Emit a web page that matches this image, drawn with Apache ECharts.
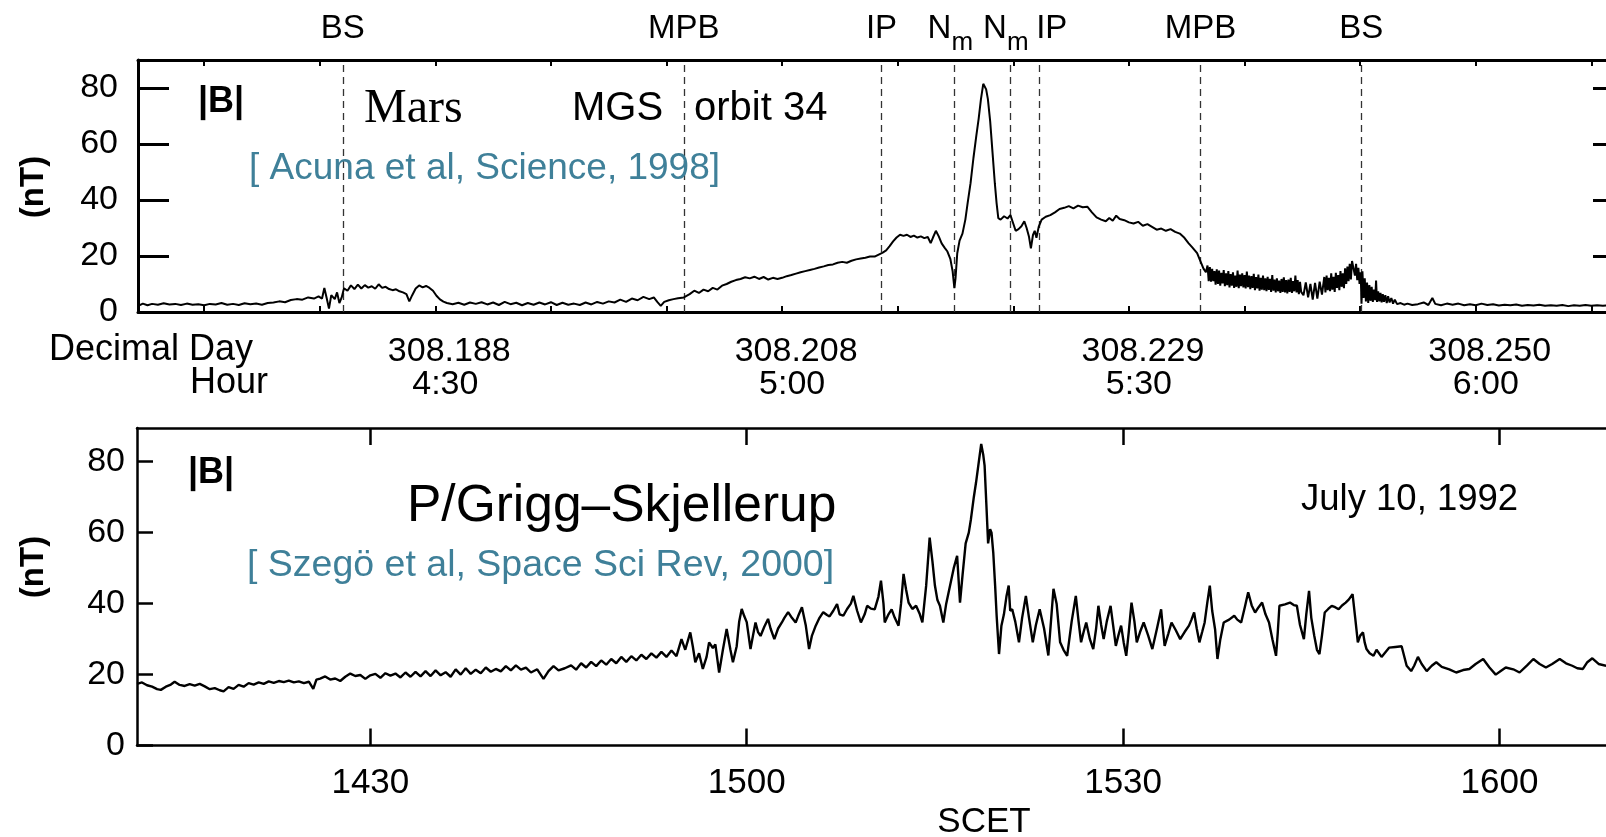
<!DOCTYPE html>
<html><head><meta charset="utf-8">
<script src="https://cdn.jsdelivr.net/npm/echarts@6.0.0/dist/echarts.min.js"></script>
<style>html,body{margin:0;padding:0;background:#fff}#c{width:1606px;height:837px}</style>
</head><body><div id="c"></div>
<script>
// ---------- Mars (MGS orbit 34), minutes after 04:00 ----------
const marsTime = [4.3,4.7,5.1,5.5,6.0,6.5,7.0,7.5,8.0,8.5,9.0,9.5,10.0,10.5,11.0,11.5,12.0,12.5,13.0,13.5,14.0,14.5,15.0,15.5,16.0,16.5,17.0,17.5,18.0,18.5,19.0,19.5,19.9,20.2,20.4,20.6,20.8,21.0,21.3,21.5,21.7,21.9,22.1,22.4,22.7,23.0,23.3,23.6,23.9,24.2,24.5,24.8,25.1,25.4,25.7,26.0,26.3,26.6,26.9,27.2,27.5,27.75,28.0,28.3,28.6,28.9,29.2,29.5,29.8,30.1,30.4,30.7,31.0,
31.5,32.0,32.5,33.0,33.5,34.0,34.5,35.0,35.5,36.0,36.5,37.0,37.5,38.0,38.5,39.0,39.5,40.0,40.5,41.0,41.5,42.0,42.5,43.0,43.5,44.0,44.5,45.0,45.5,46.0,46.5,47.0,47.5,48.0,48.5,48.9,49.2,49.5,49.8,50.2,
50.6,51.0,51.5,52.0,52.4,52.8,53.2,53.6,54.0,54.4,54.8,55.2,55.6,56.0,56.4,56.8,57.2,57.6,58.0,58.4,58.8,59.2,59.6,60.0,60.4,60.8,61.2,61.6,62.0,62.4,62.8,63.2,63.6,64.0,64.4,64.8,65.2,65.6,66.0,66.4,66.8,67.2,67.6,68.0,68.4,68.7,69.0,
69.3,69.6,69.9,70.2,70.5,70.8,71.1,71.4,71.7,72.0,72.3,72.6,72.85,73.05,73.3,73.55,73.8,74.05,74.3,74.55,74.75,74.9,75.0,75.15,75.35,75.6,75.85,76.05,76.3,76.55,76.8,77.0,77.2,77.4,77.5,77.65,77.8,78.0,78.2,78.4,78.55,78.7,78.9,79.2,79.5,79.75,80.0,80.2,80.45,80.7,80.95,81.15,81.35,81.52,81.7,81.85,82.0,82.2,82.45,82.8,83.2,83.6,84.0,
84.4,84.8,85.2,85.6,86.0,86.4,86.8,87.2,87.6,88.0,88.3,88.6,88.9,89.2,89.6,90.0,90.4,90.8,91.2,91.6,92.0,92.4,92.8,93.2,93.6,94.0,94.4,94.8,95.15,95.5,95.9,96.2,96.45,96.66,
96.8,96.9,97.0,97.1,97.2,97.3,97.4,97.5,97.6,97.7,97.8,97.9,98.0,98.1,98.2,98.3,98.4,98.5,98.6,98.7,98.8,98.9,99.0,99.1,99.2,99.3,99.4,99.5,99.6,99.7,99.8,99.9,100.0,100.1,100.2,100.3,100.4,100.5,100.6,100.7,100.8,100.9,101.0,101.1,101.2,101.3,101.4,101.5,101.6,101.7,101.8,101.9,102.0,102.1,102.2,102.3,102.4,102.5,102.6,102.7,102.8,102.9,103.0,103.1,103.2,103.3,103.4,103.5,103.6,103.7,103.8,103.9,104.0,104.1,104.2,104.3,104.4,104.5,104.6,104.7,104.8,104.9,105.1,105.3,105.5,105.7,105.9,106.1,106.3,106.5,106.7,106.9,107.0,107.1,107.2,107.3,107.4,107.5,107.6,107.7,107.8,107.9,108.0,108.1,108.2,108.3,108.4,108.5,108.6,108.7,108.8,108.9,109.0,109.1,109.2,109.3,109.45,109.55,109.65,109.75,109.85,109.95,110.05,
110.12,110.2,110.3,110.4,110.5,110.6,110.7,110.8,110.9,111.0,111.1,111.2,111.3,111.38,111.46,111.56,111.66,111.76,111.86,111.96,112.06,112.18,112.3,112.42,112.55,112.7,112.85,113.0,113.2,113.5,113.8,114.1,114.5,115.0,115.5,115.9,116.25,116.5,117.0,117.5,118.0,118.5,119.0,119.5,120.0,120.5,121.0,121.5,122.0,122.5,123.0,123.5,124.0,124.5,125.0,125.5,126.0,126.5,127.0,127.5,128.0,128.5,129.0,129.5,130.0,130.5,131.0,131.3];
const marsB = [2.2,3.0,2.4,2.9,2.6,3.1,2.7,2.9,2.5,3.0,2.6,2.8,2.4,2.9,2.7,3.2,2.6,2.9,2.5,3.1,2.8,3.0,2.6,3.2,3.4,3.8,3.5,4.3,4.6,4.4,5.2,4.8,5.6,4.8,8.6,5.0,1.2,6.0,4.6,7.0,3.2,5.2,8.5,7.6,9.5,8.2,9.8,8.4,9.6,8.7,9.2,8.3,9.9,8.6,9.0,8.2,7.8,8.1,7.4,7.0,6.4,3.8,6.0,8.4,9.5,8.8,9.3,8.6,7.6,5.8,4.5,3.7,3.2,
2.8,3.3,2.6,3.4,2.9,3.5,2.7,3.4,2.5,3.6,2.8,3.3,2.4,3.2,2.6,3.4,2.7,3.5,2.5,3.3,2.6,3.0,2.5,3.4,2.7,3.6,3.0,3.8,3.4,4.4,3.6,4.8,4.2,5.4,4.6,5.2,3.6,2.2,3.6,4.2,
4.6,4.9,5.2,6.4,7.6,6.8,8.0,7.4,8.6,8.0,9.4,10.0,10.8,11.4,11.8,12.4,12.0,12.6,11.8,12.5,11.6,12.2,11.8,12.2,12.8,13.2,13.7,14.2,14.6,15.0,15.4,15.9,16.3,16.8,17.0,17.6,17.9,17.6,18.3,18.8,19.1,19.4,19.8,19.8,20.6,21.2,22.0,
23.5,25.2,26.6,27.6,27.2,27.6,26.8,27.3,26.6,27.0,26.4,26.8,24.6,26.6,29.0,27.0,24.5,23.0,21.6,19.0,14.5,8.5,12.0,21.0,25.5,28.0,33.0,39.0,46.0,55.0,63.0,69.0,76.0,81.5,82.0,79.5,76.0,68.0,57.0,46.0,39.0,33.5,33.0,34.2,33.4,34.6,31.5,29.0,29.6,30.6,32.4,30.0,27.0,22.7,27.5,29.0,26.5,30.5,33.0,34.0,34.6,35.6,36.8,
37.2,37.8,37.0,38.0,37.4,37.6,35.6,33.8,33.0,32.4,33.6,32.6,34.4,33.2,32.8,32.0,31.6,32.2,30.8,31.4,30.4,29.4,29.8,29.0,29.6,28.6,28.0,26.5,24.6,23.0,21.0,18.0,15.5,14.2,
16.6,11.0,16.0,10.8,15.4,11.0,14.6,9.8,15.2,10.0,14.8,9.4,14.0,10.2,15.0,9.2,13.8,9.6,14.6,8.8,13.5,9.4,14.2,8.6,13.0,9.0,14.8,8.5,13.4,9.2,13.8,8.8,13.2,8.4,14.4,8.9,13.0,8.2,12.8,8.6,13.6,7.8,12.5,8.4,13.4,7.6,12.2,8.0,13.0,7.8,12.0,7.4,12.6,7.9,11.8,7.2,13.2,7.6,11.6,7.0,12.0,7.4,11.2,6.8,11.8,7.2,12.4,7.0,11.4,6.6,11.6,7.2,12.2,6.8,11.0,7.4,13.0,7.0,11.4,6.4,10.8,7.2,6.0,10.6,5.2,10.0,4.4,10.4,4.8,10.8,6.2,12.5,7.0,13.0,7.8,12.2,7.4,13.8,8.0,12.6,7.2,14.0,8.6,13.2,7.8,14.6,9.0,13.8,8.5,15.6,10.0,16.2,11.0,17.2,11.6,18.2,18.6,13.0,17.2,11.4,15.8,10.0,14.2,
3.0,14.5,5.0,12.0,3.8,10.5,3.2,9.6,4.0,9.0,3.6,8.0,4.2,11.2,3.6,7.4,3.8,6.8,3.4,6.4,3.6,6.0,3.2,5.6,3.4,5.0,3.0,4.4,2.8,3.2,2.6,3.0,2.5,2.8,3.4,2.5,5.0,2.9,2.4,3.0,2.6,3.0,2.4,2.8,2.4,3.0,2.5,2.8,2.3,2.6,2.4,2.7,2.2,2.5,2.3,2.6,2.2,2.4,2.2,2.5,2.1,2.4,2.2,2.5,2.2,2.4,2.2,2.3];

// boundary crossings (minutes after 04:00)
const boundaryTimes = [22.0, 51.5, 68.6, 74.9, 79.7, 82.2, 96.2, 110.1];
const boundaryNames = ['BS', 'MPB', 'IP', 'Nm', 'Nm', 'IP', 'MPB', 'BS'];

const marsMinorTicks = [10,20,30,40,50,60,70,80,90,100,110,120,130];
const marsTickValues = [30, 60, 90, 120];
const marsDayLabels = ['308.188', '308.208', '308.229', '308.250'];
const marsHourLabels = ['4:30', '5:00', '5:30', '6:00'];

// ---------- P/Grigg-Skjellerup (Giotto), minutes after 14:00 SCET ----------
const gsTime = [11.4,11.8,12.2,12.6,13.0,13.3,13.7,14.1,14.4,14.8,15.2,15.6,16.0,16.4,16.8,17.2,17.6,18.0,18.3,18.7,19.1,19.5,19.9,20.3,20.7,21.1,21.5,21.9,22.3,22.7,23.1,23.5,23.9,24.3,24.7,25.1,25.45,25.7,26.0,26.4,26.8,27.2,27.6,28.0,28.4,28.8,29.2,29.6,30.0,30.4,30.8,31.2,31.6,32.0,32.4,32.8,33.2,33.6,34.0,34.4,34.8,35.2,35.6,36.0,36.4,36.8,37.2,37.6,38.0,38.4,38.8,39.2,39.6,40.0,40.4,40.8,41.2,41.6,42.0,42.4,42.8,43.3,43.8,44.2,44.6,45.0,45.5,46.0,46.4,46.8,47.2,47.6,48.0,48.4,48.8,49.2,49.6,50.0,50.4,50.8,51.2,51.6,52.0,52.4,52.8,53.2,53.6,54.0,54.4,
54.8,55.1,55.5,55.7,55.9,56.2,56.5,56.8,57.0,57.3,57.5,57.8,58.1,58.4,58.7,58.9,59.2,59.4,59.6,59.8,60.0,60.3,60.5,60.7,60.9,61.1,61.4,61.7,61.9,62.2,62.5,62.8,63.0,63.3,63.6,63.9,64.1,64.4,64.7,64.97,65.2,65.5,65.8,66.1,66.4,66.6,66.9,67.2,67.4,67.7,68.0,68.3,68.5,68.8,69.1,69.4,69.6,69.9,70.2,70.5,70.7,70.9,71.0,71.3,71.55,71.8,72.1,72.3,72.5,72.7,72.9,73.2,73.5,73.8,74.0,74.3,74.58,74.8,75.0,75.2,75.4,75.67,75.9,76.2,76.5,76.77,77.0,77.2,77.45,77.7,77.87,78.1,78.28,78.5,78.69,78.85,78.96,79.1,79.24,79.4,79.51,79.65,79.8,79.92,80.11,80.3,80.5,80.7,80.88,81.0,81.16,81.4,81.7,81.95,82.25,82.5,82.8,83.05,83.35,83.7,84.04,84.25,84.45,84.7,
84.98,85.25,85.54,85.9,86.23,86.45,86.65,86.85,87.06,87.35,87.62,87.85,88.03,88.25,88.45,88.7,89.0,89.2,89.42,89.62,89.84,90.05,90.25,90.45,90.67,90.9,91.09,91.35,91.64,92.0,92.33,92.7,93.03,93.17,93.31,93.6,93.86,94.2,94.55,94.9,95.25,95.45,95.66,95.87,96.08,96.3,96.5,96.7,96.91,97.1,97.33,97.52,97.75,98.02,98.45,98.86,99.1,99.41,99.7,99.97,100.25,100.52,100.8,101.08,101.35,101.63,101.9,102.19,102.33,102.46,102.9,103.3,103.6,103.85,104.1,104.41,104.6,104.82,105.0,105.24,105.45,105.65,105.85,106.07,106.35,106.63,106.9,107.18,107.45,107.74,108.0,108.29,108.5,108.71,108.9,109.12,109.26,109.4,109.65,109.96,
110.2,110.6,111.2,111.7,112.2,112.6,112.96,113.2,113.5,113.8,114.2,114.6,114.96,115.4,116.0,116.55,117.1,117.6,118.1,118.7,119.2,119.7,120.1,120.5,121.1,121.6,122.2,122.7,123.2,123.7,124.2,124.8,125.3,125.8,126.2,126.65,127.0,127.4,127.9,128.5];
const gsB = [17.4,17.8,17.0,16.6,15.9,15.7,16.6,17.2,18.0,17.1,16.8,17.3,16.9,17.4,16.7,15.9,16.2,15.6,15.3,16.5,16.0,17.1,16.6,17.6,17.2,17.8,17.4,18.1,17.7,18.2,17.9,18.3,17.8,18.1,17.6,18.0,16.0,18.6,18.9,19.5,18.6,18.9,18.2,19.4,20.3,19.6,19.9,18.8,19.8,20.2,19.1,20.4,19.7,20.3,19.2,20.6,19.4,20.8,19.5,21.0,19.6,21.2,19.8,20.7,19.4,21.5,20.0,21.8,20.2,21.4,20.4,22.0,20.8,21.6,20.9,22.4,21.2,22.6,21.4,22.0,20.6,21.5,18.8,21.0,22.4,21.2,21.8,22.6,21.4,23.2,22.0,23.6,22.4,24.0,22.8,24.4,23.2,25.0,23.6,25.2,24.0,25.6,24.4,26.0,24.8,26.4,25.0,26.8,25.2,
30.0,27.0,31.9,28.0,23.5,26.0,21.6,25.0,29.1,27.5,28.5,20.6,27.0,32.9,27.0,23.5,28.0,35.0,38.5,36.5,34.8,27.2,31.0,34.7,32.0,30.9,33.5,35.7,33.0,30.0,33.0,34.7,36.0,37.6,36.0,34.7,36.5,39.0,34.0,27.2,31.0,33.8,36.0,37.6,36.8,36.4,38.0,39.9,37.0,36.6,38.5,40.0,42.2,38.0,34.7,37.0,39.4,38.6,38.4,42.0,46.5,40.0,34.7,37.0,38.4,36.0,33.8,40.0,48.4,44.0,40.3,38.5,39.4,37.0,34.7,45.0,58.6,52.0,45.1,41.0,39.4,34.7,40.0,45.0,50.0,53.5,40.3,48.0,57.0,60.0,63.8,70.0,74.2,80.0,85.0,82.0,78.9,68.0,57.0,61.0,60.0,54.4,45.0,36.6,25.8,33.8,37.0,42.0,45.1,38.0,38.4,35.0,29.1,36.0,42.2,36.0,29.1,34.0,38.4,33.0,25.4,35.0,44.2,40.0,
29.1,27.0,25.3,35.0,42.2,35.0,29.1,32.0,34.7,30.0,27.2,33.0,39.4,34.0,30.0,35.0,39.4,34.0,28.1,31.0,33.8,29.0,25.3,32.0,40.3,35.0,29.1,32.0,34.7,31.0,27.2,33.0,38.4,33.0,28.1,31.5,34.7,32.5,30.0,32.0,33.8,35.5,37.5,33.0,29.1,32.0,34.7,40.0,45.1,38.0,32.8,24.4,30.0,34.7,35.5,36.6,35.5,34.7,39.0,43.2,39.5,37.5,39.0,40.3,37.0,34.7,30.0,25.3,32.0,39.4,39.8,40.3,39.6,39.4,34.0,30.0,37.0,43.6,36.0,30.9,27.0,25.8,31.0,37.5,38.5,39.4,39.0,38.4,39.5,40.3,41.2,42.7,36.0,29.1,31.0,31.9,29.0,27.2,26.0,25.3,
27.0,25.0,27.6,27.8,28.0,22.5,21.0,22.5,25.0,23.0,21.0,22.5,23.5,22.2,21.5,20.6,21.3,21.6,23.0,24.4,22.0,20.0,21.0,22.0,21.5,20.6,22.6,24.4,23.0,22.0,23.0,24.4,23.2,22.5,21.8,21.6,23.5,24.6,23.0,22.5];

const gsTickValues = [30, 60, 90, 120];
const gsTickLabels = ['1430', '1500', '1530', '1600'];
const yTickValues = [0, 20, 40, 60, 80];

const FONT = '"Liberation Sans", Arial, Helvetica, sans-serif';
const TEAL = '#3f8099';

const marsData = marsTime.map((t, i) => [t, marsB[i]]);
const gsData = gsTime.map((t, i) => [t, gsB[i]]);

const chart = echarts.init(document.getElementById('c'), null, {renderer: 'canvas', width: 1606, height: 837});

function txt(text, x, y, size, opts) {
  opts = opts || {};
  return {
    type: 'text', x: x, y: y, rotation: opts.rotation || 0, z: 100,
    style: {
      text: text, fill: opts.color || '#000',
      font: (opts.weight || 'normal') + ' ' + size + 'px ' + (opts.family || FONT),
      textAlign: opts.align || 'left', align: opts.align || 'left',
      textVerticalAlign: 'middle', verticalAlign: 'middle'
    }
  };
}

function frameLine(w) { return {show: true, onZero: false, lineStyle: {color: '#000', width: w}}; }

const option = {
  animation: false,
  backgroundColor: '#fff',
  grid: [
    {left: 138, top: 60, width: 1468, height: 252, show: false, outerBoundsMode: 'none'},
    {left: 137, top: 428, width: 1469, height: 317.6, show: false, outerBoundsMode: 'none'}
  ],
  xAxis: [
    {gridIndex: 0, type: 'value', position: 'bottom', min: 4.28, max: 131.27,
     axisLine: frameLine(3), splitLine: {show: false},
     axisTick: {show: true, inside: true, length: 6, customValues: marsMinorTicks, lineStyle: {color: '#000', width: 2}},
     axisLabel: {show: true, customValues: marsTickValues, color: '#000', fontFamily: FONT, fontSize: 34, lineHeight: 33, margin: 23,
       formatter: function (v) { const i = marsTickValues.indexOf(v); return '{d|' + marsDayLabels[i] + '}\n{h|' + marsHourLabels[i] + '}'; },
       rich: {
         d: {fontSize: 34, fontFamily: FONT, color: '#000', lineHeight: 33, padding: [0, 0, 0, 28]},
         h: {fontSize: 34, fontFamily: FONT, color: '#000', lineHeight: 33, padding: [0, 0, 0, 20]}
       }}},
    {gridIndex: 0, type: 'value', position: 'top', min: 4.28, max: 131.27,
     axisLine: frameLine(3), splitLine: {show: false},
     axisTick: {show: true, inside: true, length: 6, customValues: marsMinorTicks, lineStyle: {color: '#000', width: 2}},
     axisLabel: {show: false}},
    {gridIndex: 1, type: 'value', position: 'bottom', min: 11.4, max: 128.49,
     axisLine: frameLine(2.5), splitLine: {show: false},
     axisTick: {show: true, inside: true, length: 17, customValues: gsTickValues, lineStyle: {color: '#000', width: 2.5}},
     axisLabel: {show: true, customValues: gsTickValues, color: '#000', fontFamily: FONT, fontSize: 35, margin: 20,
       formatter: function (v) { return gsTickLabels[gsTickValues.indexOf(v)]; }}},
    {gridIndex: 1, type: 'value', position: 'top', min: 11.4, max: 128.49,
     axisLine: frameLine(2.5), splitLine: {show: false},
     axisTick: {show: true, inside: true, length: 17, customValues: gsTickValues, lineStyle: {color: '#000', width: 2.5}},
     axisLabel: {show: false}}
  ],
  yAxis: [
    {gridIndex: 0, type: 'value', position: 'left', min: 0, max: 90,
     axisLine: frameLine(3), splitLine: {show: false},
     axisTick: {show: true, inside: true, length: 31, customValues: yTickValues, lineStyle: {color: '#000', width: 3}},
     axisLabel: {show: true, customValues: yTickValues, color: '#000', fontFamily: FONT, fontSize: 34, margin: 20}},
    {gridIndex: 0, type: 'value', position: 'right', min: 0, max: 90,
     axisLine: {show: false}, splitLine: {show: false},
     axisTick: {show: true, inside: true, length: 13, customValues: yTickValues, lineStyle: {color: '#000', width: 3}},
     axisLabel: {show: false}},
    {gridIndex: 1, type: 'value', position: 'left', min: 0, max: 89.5,
     axisLine: frameLine(2.5), splitLine: {show: false},
     axisTick: {show: true, inside: true, length: 16, customValues: yTickValues, lineStyle: {color: '#000', width: 2.5}},
     axisLabel: {show: true, customValues: yTickValues, color: '#000', fontFamily: FONT, fontSize: 34, margin: 12}}
  ],
  series: [
    {type: 'line', xAxisIndex: 0, yAxisIndex: 0, data: marsData, showSymbol: false, symbol: 'none',
     lineStyle: {color: '#000', width: 2}, z: 5,
     markLine: {
       silent: true, symbol: ['none', 'none'], animation: false,
       lineStyle: {type: [7, 5], color: '#333', width: 1.3},
       label: {show: true, position: 'end', distance: 15, color: '#000', fontFamily: FONT, fontSize: 33,
         formatter: function (p) { return p.name === 'Nm' ? '{n|N}{s|m}' : p.name; },
         rich: {
           n: {fontSize: 33, fontFamily: FONT, color: '#000', verticalAlign: 'top'},
           s: {fontSize: 26, fontFamily: FONT, color: '#000', verticalAlign: 'bottom', lineHeight: 44}
         }},
       data: boundaryTimes.map(function (t, i) {
         const item = {xAxis: t, name: boundaryNames[i]};
         if (boundaryNames[i] === 'Nm') item.label = {distance: 4, padding: [0, 8, 0, 0]};
         if (i === 5) item.label = {padding: [0, 0, 0, 26]};
         return item;
       })
     }},
    {type: 'line', xAxisIndex: 2, yAxisIndex: 2, data: gsData, showSymbol: false, symbol: 'none',
     lineStyle: {color: '#000', width: 2.4}, z: 5}
  ],
  graphic: {elements: [
    txt('|B|', 198, 102, 36, {weight: 'bold'}),
    txt('Mars', 364, 109, 48, {family: '"Liberation Serif", "Times New Roman", serif'}),
    txt('MGS', 572, 109, 40),
    txt('orbit 34', 694, 109, 40),
    txt('[ Acuna et al, Science, 1998]', 249, 169, 37, {color: TEAL}),
    txt('Decimal Day', 49, 350, 36),
    txt('Hour', 268, 383, 36, {align: 'right'}),
    txt('(nT)', 34, 187, 33, {weight: 'bold', align: 'center', rotation: Math.PI / 2}),
    txt('|B|', 188, 473, 36, {weight: 'bold'}),
    txt('P/Grigg\u2013Skjellerup', 407, 507, 51.5),
    txt('[ Szeg\u00f6 et al, Space Sci Rev, 2000]', 247, 566, 37.5, {color: TEAL}),
    txt('July 10, 1992', 1301, 500, 36.5),
    txt('(nT)', 34, 567, 33, {weight: 'bold', align: 'center', rotation: Math.PI / 2}),
    txt('SCET', 984, 822, 35, {align: 'center'})
  ]}
};
chart.setOption(option);
</script>
</body></html>
